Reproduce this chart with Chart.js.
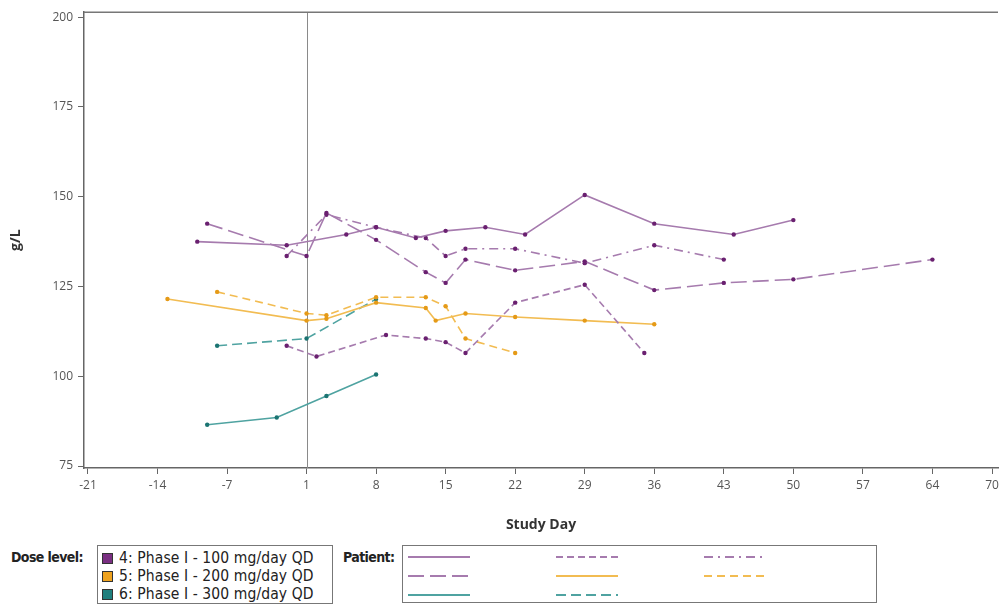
<!DOCTYPE html>
<html>
<head>
<meta charset="utf-8">
<script src="https://cdn.jsdelivr.net/npm/chart.js@4"></script>
<style>
  body { margin: 0; background: #fff; }
  #pagina { position: relative; width: 1003px; height: 607px; overflow: hidden; font-family: "Liberation Sans Narrow", "DejaVu Sans Condensed", sans-serif; color: #222; }
  #grafica { position: absolute; left: 0; top: 0; }
  .etiqueta { position: absolute; font-weight: bold; font-size: 14px; letter-spacing: -0.6px; }
  .caja { position: absolute; border: 1.5px solid #777; box-sizing: border-box; }
  .fila { position: absolute; left: 4px; font-size: 15.5px; line-height: 18px; white-space: nowrap; letter-spacing: 0.1px; }
  .cuadro { display: inline-block; width: 9px; height: 9px; border: 1px solid #333; margin-right: 6px; vertical-align: -1px; }
  .muestra { position: absolute; }
</style>
</head>
<body>
<div id="pagina">
  <canvas id="grafica" width="1003" height="540"></canvas>

  <div class="etiqueta" style="left:11px; top:549px;">Dose level:</div>
  <div class="caja" style="left:97px; top:545px; width:236px; height:59px;">
    <div class="fila" style="top:3px;"><span class="cuadro" style="background:#7a2f82;"></span>4: Phase I - 100 mg/day QD</div>
    <div class="fila" style="top:21px;"><span class="cuadro" style="background:#eea21f;"></span>5: Phase I - 200 mg/day QD</div>
    <div class="fila" style="top:39px;"><span class="cuadro" style="background:#1f7f7d;"></span>6: Phase I - 300 mg/day QD</div>
  </div>

  <div class="etiqueta" style="left:343px; top:549px;">Patient:</div>
  <div class="caja" id="cajaPacientes" style="left:402px; top:545px; width:475px; height:58px;"></div>
</div>

<script>
// Valores (dia de estudio / hemoglobina g/L)
const xTicks = [-21, -14, -7, 1, 8, 15, 22, 29, 36, 43, 50, 57, 64, 70];
const yTicks = [75, 100, 125, 150, 175, 200];

// Dosis 4: 100 mg/day
const diasP1 = [-10, -1, 5, 8, 12, 15, 19, 23, 29, 36, 44, 50];
const valoresP1 = [137.5, 136.5, 139.5, 141.5, 138.5, 140.5, 141.5, 139.5, 150.5, 142.5, 139.5, 143.5];

const diasP2 = [-9, 1, 3, 8, 13, 15, 17, 22, 29, 36, 43, 50, 64];
const valoresP2 = [142.5, 133.5, 145.5, 138, 129, 126, 132.5, 129.5, 132, 124, 126, 127, 132.5];

const diasP3 = [-1, 3, 8, 13, 15, 17, 22, 29, 36, 43];
const valoresP3 = [133.5, 145, 141.5, 138.5, 133.5, 135.5, 135.5, 131.5, 136.5, 132.5];

const diasP4 = [-1, 2, 9, 13, 15, 17, 22, 29, 35];
const valoresP4 = [108.5, 105.5, 111.5, 110.5, 109.5, 106.5, 120.5, 125.5, 106.5];

// Dosis 5: 200 mg/day
const diasO1 = [-13, 1, 3, 8, 13, 14, 17, 22, 29, 36];
const valoresO1 = [121.5, 115.5, 116, 120.5, 119, 115.5, 117.5, 116.5, 115.5, 114.5];

const diasO2 = [-8, 1, 3, 8, 13, 15, 17, 22];
const valoresO2 = [123.5, 117.5, 117, 122, 122, 119.5, 110.5, 106.5];

// Dosis 6: 300 mg/day
const diasT1 = [-9, -2, 3, 8];
const valoresT1 = [86.5, 88.5, 94.5, 100.5];

const diasT2 = [-8, 1, 8];
const valoresT2 = [108.5, 110.5, 121.5];

const morado = { linea: "#a67bae", punto: "#6a2070" };
const naranja = { linea: "#f2bc52", punto: "#e59a17" };
const verde = { linea: "#4fa3a1", punto: "#1b7472" };

// mismo orden que la leyenda (por filas)
const pacientes = [
  { dias: diasP1, valores: valoresP1, color: morado, dash: [] },
  { dias: diasP4, valores: valoresP4, color: morado, dash: [7, 4] },
  { dias: diasP3, valores: valoresP3, color: morado, dash: [9, 5, 2, 5] },
  { dias: diasP2, valores: valoresP2, color: morado, dash: [16, 6] },
  { dias: diasO1, valores: valoresO1, color: naranja, dash: [] },
  { dias: diasO2, valores: valoresO2, color: naranja, dash: [8, 5] },
  { dias: diasT1, valores: valoresT1, color: verde, dash: [] },
  { dias: diasT2, valores: valoresT2, color: verde, dash: [10, 5] },
];

const crearDataset = (p) => ({
  data: p.dias.map((d, i) => ({ x: d, y: p.valores[i] })),
  borderColor: p.color.linea,
  borderWidth: 1.6,
  borderDash: p.dash,
  pointRadius: 2.2,
  pointBackgroundColor: p.color.punto,
  pointBorderColor: p.color.punto,
  pointBorderWidth: 0,
  tension: 0,
  fill: false,
});

// linea de referencia en el dia 1 y borde superior
const lineasExtra = {
  id: "lineasExtra",
  beforeDatasetsDraw(chart) {
    const { ctx, chartArea, scales } = chart;
    const x = scales.x.getPixelForValue(1);
    ctx.save();
    ctx.strokeStyle = "#8a8a8a";
    ctx.lineWidth = 1;
    ctx.beginPath();
    ctx.moveTo(Math.round(x) + 0.5, chartArea.top);
    ctx.lineTo(Math.round(x) + 0.5, chartArea.bottom);
    ctx.stroke();
    ctx.strokeStyle = "#777";
    ctx.lineWidth = 1.5;
    ctx.beginPath();
    ctx.moveTo(chartArea.left, chartArea.top);
    ctx.lineTo(chartArea.right, chartArea.top);
    ctx.stroke();
    ctx.restore();
  },
};

const fuenteEjes = { family: "'Open Sans', 'Liberation Sans', sans-serif", size: 12 };

new Chart("grafica", {
  type: "line",
  data: { datasets: pacientes.map(crearDataset) },
  options: {
    responsive: false,
    animation: false,
    layout: { padding: { left: 0, top: 7, right: 5, bottom: 0 } },
    plugins: { legend: { display: false }, tooltip: { enabled: false } },
    scales: {
      x: {
        type: "linear",
        min: -21.4,
        max: 70.6,
        afterBuildTicks: (axis) => { axis.ticks = xTicks.map((v) => ({ value: v })); },
        afterFit: (axis) => { axis.height = 72; },
        grid: { display: true, drawOnChartArea: false, drawTicks: true, tickLength: 6, color: "#666" },
        border: { display: true, color: "#666", width: 1.5 },
        ticks: { color: "#555", font: fuenteEjes, padding: 4, maxRotation: 0, autoSkip: false },
        title: { display: true, text: "Study Day", color: "#333", font: { family: "'Open Sans', 'Liberation Sans', sans-serif", size: 14, weight: "bold" }, padding: { top: 0, bottom: 7 } },
      },
      y: {
        min: 74.45,
        max: 201.4,
        afterBuildTicks: (axis) => { axis.ticks = yTicks.map((v) => ({ value: v })); },
        afterFit: (axis) => { axis.width = 84; },
        grid: { display: true, drawOnChartArea: false, drawTicks: true, tickLength: 6, color: "#666" },
        border: { display: true, color: "#666", width: 1.5 },
        ticks: { color: "#555", font: fuenteEjes, padding: 5 },
        title: { display: true, text: "g/L", color: "#333", font: { family: "'Open Sans', 'Liberation Sans', sans-serif", size: 14, weight: "bold" }, padding: { top: 8, bottom: 0 } },
      },
    },
  },
  plugins: [lineasExtra],
});

// muestras de linea para la leyenda de pacientes
const columnas = [5, 153, 301];
const filas = [11, 30, 49];
const cajaPacientes = document.getElementById("cajaPacientes");
pacientes.forEach((p, i) => {
  const col = i % 3;
  const fila = Math.floor(i / 3);
  const svg = document.createElementNS("http://www.w3.org/2000/svg", "svg");
  svg.setAttribute("class", "muestra");
  svg.setAttribute("width", "64");
  svg.setAttribute("height", "4");
  svg.style.left = columnas[col] + "px";
  svg.style.top = filas[fila] - 2 + "px";
  const linea = document.createElementNS("http://www.w3.org/2000/svg", "line");
  linea.setAttribute("x1", "0");
  linea.setAttribute("y1", "2");
  linea.setAttribute("x2", "62");
  linea.setAttribute("y2", "2");
  linea.setAttribute("stroke", p.color.linea);
  linea.setAttribute("stroke-width", "2");
  if (p.dash.length) linea.setAttribute("stroke-dasharray", p.dash.join(" "));
  svg.appendChild(linea);
  cajaPacientes.appendChild(svg);
});
</script>
</body>
</html>
